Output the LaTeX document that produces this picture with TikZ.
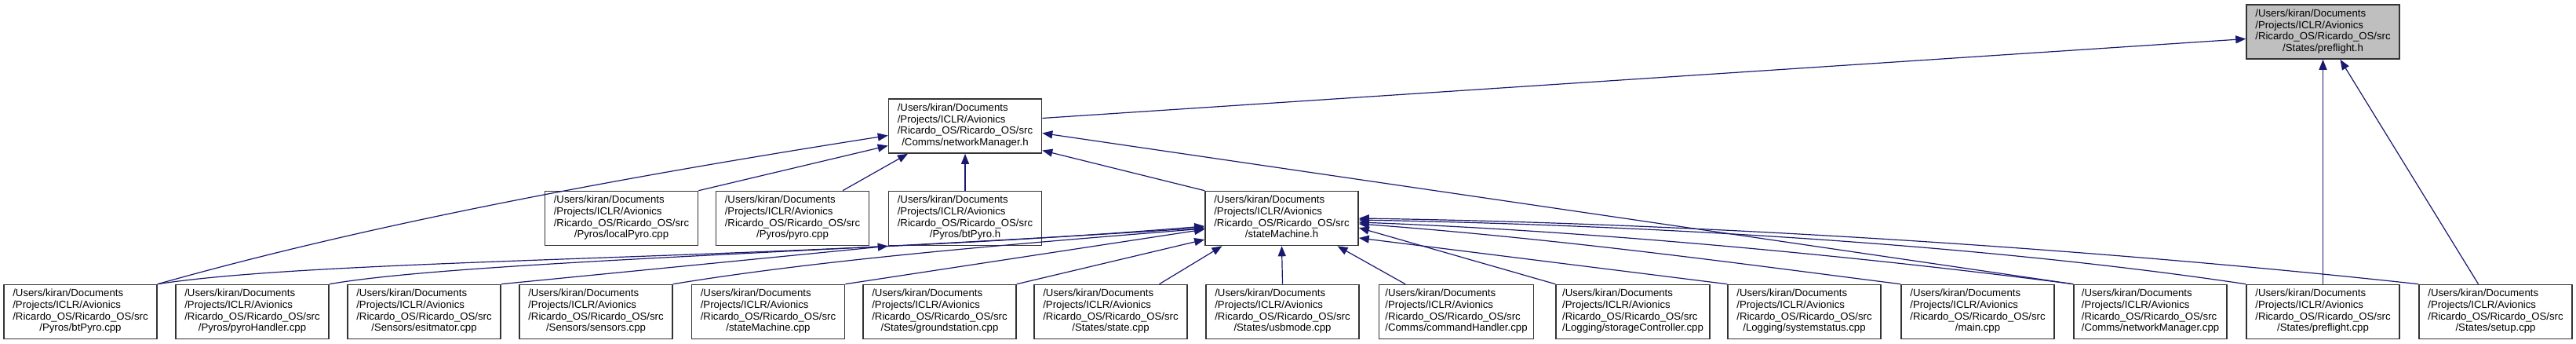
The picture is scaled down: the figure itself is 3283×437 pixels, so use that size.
\documentclass[tikz,border=0pt]{standalone}
\usepackage{fontspec}
\setmainfont{Liberation Sans}
\usetikzlibrary{arrows.meta}
\definecolor{edgeblue}{HTML}{191970}
\definecolor{boxline}{HTML}{333333}
\tikzset{
    file/.style={draw=boxline, line width=1.6pt, fill=white, minimum width=195pt,
                 minimum height=69pt, inner xsep=8pt, inner ysep=2pt,
                 font=\fontsize{13.2}{14.7}\selectfont},
    current/.style={file, fill=black!25},
    dep/.style={draw=edgeblue, line width=1.2pt, -{Triangle[length=13pt,width=10pt]}},
}
\newcommand{\fname}[1]{%
    \begin{tabular}{@{}l@{}}
    /Users/kiran/Documents\\
    /Projects/ICLR/Avionics\\
    /Ricardo\_OS/Ricardo\_OS/src\\
    \multicolumn{1}{@{}c@{}}{#1}
    \end{tabular}}

\begin{document}
\begin{tikzpicture}[x=1pt, y=-1pt]
    \path[use as bounding box] (0,0) rectangle (3283,437);

    \node[current] (preflighth) at (2960.5,40.5) {\fname{/States/preflight.h}};
    \node[file] (netmgrh) at (1230,160.5) {\fname{/Comms/networkManager.h}};

    \node[file] (localpyro) at (792,278) {\fname{/Pyros/localPyro.cpp}};
    \node[file] (pyrocpp) at (1010,278) {\fname{/Pyros/pyro.cpp}};
    \node[file] (btpyroh) at (1230,278) {\fname{/Pyros/btPyro.h}};
    \node[file] (statemachineh) at (1633.5,278) {\fname{/stateMachine.h}};

    \node[file] (btpyrocpp) at (102.5,397) {\fname{/Pyros/btPyro.cpp}};
    \node[file] (pyrohandler) at (321.5,397) {\fname{/Pyros/pyroHandler.cpp}};
    \node[file] (estimator) at (540.5,397) {\fname{/Sensors/esitmator.cpp}};
    \node[file] (sensors) at (759.5,397) {\fname{/Sensors/sensors.cpp}};
    \node[file] (smcpp) at (979,397) {\fname{/stateMachine.cpp}};
    \node[file] (groundstation) at (1197.5,397) {\fname{/States/groundstation.cpp}};
    \node[file] (statecpp) at (1415.5,397) {\fname{/States/state.cpp}};
    \node[file] (usbmode) at (1634.5,397) {\fname{/States/usbmode.cpp}};
    \node[file] (cmdhandler) at (1856,397) {\fname{/Comms/commandHandler.cpp}};
    \node[file] (storagectrl) at (2081,397) {\fname{/Logging/storageController.cpp}};
    \node[file] (sysstatus) at (2299.5,397) {\fname{/Logging/systemstatus.cpp}};
    \node[file] (maincpp) at (2520.5,397) {\fname{/main.cpp}};
    \node[file] (netmgrcpp) at (2740.5,397) {\fname{/Comms/networkManager.cpp}};
    \node[file] (preflightcpp) at (2960.5,397) {\fname{/States/preflight.cpp}};
    \node[file] (setupcpp) at (3180.5,397) {\fname{/States/setup.cpp}};

    \draw[dep] ([yshift=10pt]netmgrh.east) -- ([yshift=-9pt]preflighth.west);
    \draw[dep] (preflightcpp.north) -- (preflighth.south);
    \draw[dep] ([xshift=-22pt]setupcpp.north) -- ([xshift=22pt]preflighth.south);

    \draw[dep] (btpyrocpp.north east) .. controls (420,300) and (700,240) .. ([yshift=-12pt]netmgrh.west);
    \draw[dep] (localpyro.north east) -- ([yshift=-25pt]netmgrh.west);
    \draw[dep] ([xshift=64pt]pyrocpp.north) -- ([xshift=-73pt]netmgrh.south);
    \draw[dep] (btpyroh.north) -- (netmgrh.south);
    \draw[dep] (statemachineh.north west) -- ([yshift=-31pt]netmgrh.east);
    \draw[dep] (netmgrcpp.north west) -- ([yshift=-9pt]netmgrh.east);

    \draw[dep] (estimator.north east) -- (btpyroh.south west);

    \draw[dep] (btpyrocpp.north east) .. controls (420,328) and (1000,332) .. ([yshift=-10pt]statemachineh.west);
    \draw[dep] (pyrohandler.north east) .. controls (580,334) and (1050,322) .. ([yshift=-12pt]statemachineh.west);
    \draw[dep] (sensors.north east) .. controls (1050,330) and (1300,310) .. ([yshift=-13pt]statemachineh.west);
    \draw[dep] (smcpp.north east) -- ([yshift=-14pt]statemachineh.west);
    \draw[dep] (groundstation.north east) -- ([yshift=-27pt]statemachineh.west);
    \draw[dep] ([xshift=62pt]statecpp.north) -- ([xshift=-76pt]statemachineh.south);
    \draw[dep] (usbmode.north) -- (statemachineh.south);
    \draw[dep] ([xshift=-65pt]cmdhandler.north) -- ([xshift=71pt]statemachineh.south);
    \draw[dep] (storagectrl.north west) -- ([yshift=-12pt]statemachineh.east);
    \draw[dep] (sysstatus.north west) -- ([yshift=-25pt]statemachineh.east);
    \draw[dep] (maincpp.north west) .. controls (2250,340) and (2000,305) .. ([yshift=-7pt]statemachineh.east);
    \draw[dep] (netmgrcpp.north west) .. controls (2400,330) and (2050,295) .. ([yshift=-5pt]statemachineh.east);
    \draw[dep] (preflightcpp.north west) .. controls (2550,315) and (2150,288) .. ([yshift=-2pt]statemachineh.east);
    \draw[dep] (setupcpp.north west) .. controls (2700,320) and (2200,285) .. (statemachineh.east);

\end{tikzpicture}
\end{document}
